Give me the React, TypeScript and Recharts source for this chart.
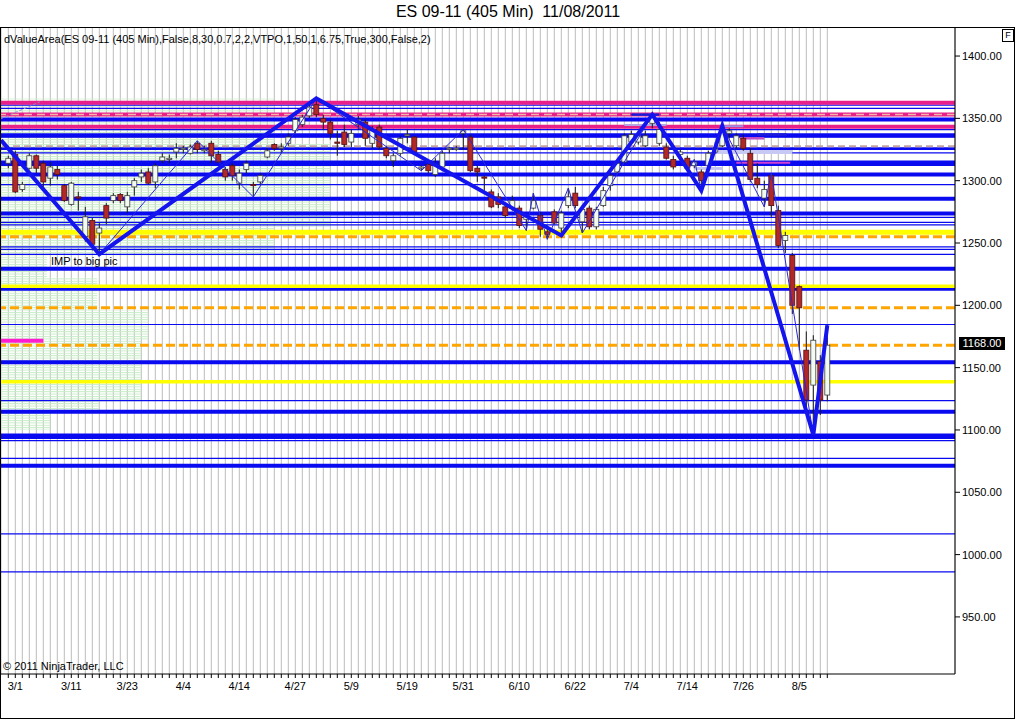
import React from 'react';
import {
  ComposedChart,
  Bar,
  Line,
  XAxis,
  YAxis,
  CartesianGrid,
  ReferenceLine,
  ReferenceArea,
} from 'recharts';

// one bar per session, 2/28 .. 8/11
const opens = [
  1314, 1321, 1293, 1310, 1320, 1314, 1302, 1309, 1296, 1281,
  1287, 1255, 1268, 1258, 1280, 1284, 1289, 1279, 1295, 1303,
  1307, 1299, 1316, 1317, 1323, 1325, 1322, 1330, 1324, 1330,
  1321, 1309, 1312, 1298, 1309, 1297, 1299, 1319, 1329, 1326,
  1330, 1340, 1345, 1352, 1361, 1350, 1347, 1331, 1339, 1331,
  1345, 1347, 1330, 1343, 1326, 1316, 1322, 1336, 1335, 1310,
  1313, 1305, 1311, 1325, 1325, 1338, 1335, 1310, 1303, 1291,
  1287, 1279, 1278, 1278, 1269, 1278, 1272, 1259, 1275, 1262,
  1280, 1290, 1267, 1278, 1263, 1280, 1296, 1307, 1315, 1331,
  1331, 1328, 1346, 1330, 1327, 1317, 1321, 1318, 1312, 1307,
  1312, 1323, 1328, 1338, 1328, 1334, 1322, 1302, 1286, 1304,
  1276, 1252, 1240, 1215, 1164, 1136, 1155, 1128,
];
const highs = [
  1320, 1324, 1299, 1322, 1321, 1316, 1315, 1312, 1297, 1299,
  1291, 1279, 1270, 1266, 1282, 1290, 1290, 1291, 1302, 1309,
  1310, 1314, 1322, 1321, 1330, 1328, 1329, 1332, 1328, 1332,
  1324, 1311, 1314, 1309, 1316, 1299, 1306, 1326, 1330, 1330,
  1338, 1351, 1353, 1361, 1366, 1353, 1349, 1340, 1345, 1341,
  1352, 1349, 1344, 1345, 1328, 1322, 1336, 1341, 1336, 1312,
  1315, 1318, 1324, 1327, 1328, 1341, 1337, 1312, 1304, 1293,
  1290, 1281, 1288, 1280, 1273, 1290, 1275, 1264, 1277, 1276,
  1294, 1295, 1280, 1280, 1279, 1295, 1306, 1316, 1338, 1340,
  1339, 1340, 1353, 1347, 1330, 1320, 1325, 1320, 1317, 1309,
  1324, 1331, 1344, 1342, 1338, 1337, 1326, 1314, 1300, 1306,
  1280, 1259, 1242, 1216, 1179, 1176, 1160, 1184,
];
const lows = [
  1310, 1290, 1291, 1309, 1306, 1295, 1296, 1301, 1283, 1280,
  1276, 1251, 1244, 1241, 1265, 1282, 1282, 1274, 1288, 1299,
  1297, 1294, 1314, 1314, 1318, 1322, 1321, 1322, 1322, 1314,
  1314, 1300, 1300, 1293, 1306, 1287, 1297, 1318, 1324, 1322,
  1328, 1338, 1343, 1350, 1351, 1341, 1333, 1320, 1327, 1327,
  1341, 1328, 1326, 1325, 1318, 1311, 1320, 1330, 1322, 1308,
  1306, 1303, 1310, 1322, 1324, 1325, 1307, 1299, 1292, 1278,
  1278, 1270, 1276, 1262, 1260, 1277, 1255, 1253, 1265, 1256,
  1278, 1278, 1258, 1261, 1261, 1279, 1292, 1306, 1314, 1329,
  1329, 1327, 1342, 1328, 1317, 1309, 1318, 1308, 1310, 1292,
  1310, 1322, 1327, 1334, 1326, 1324, 1299, 1294, 1279, 1271,
  1246, 1242, 1193, 1164, 1113, 1096, 1112, 1123,
];
const closes = [
  1318, 1291, 1297, 1320, 1310, 1299, 1311, 1305, 1284, 1298,
  1286, 1271, 1249, 1262, 1270, 1288, 1284, 1288, 1300, 1306,
  1298, 1312, 1319, 1318, 1326, 1326, 1327, 1325, 1325, 1320,
  1315, 1303, 1304, 1306, 1314, 1296, 1304, 1324, 1326, 1327,
  1335, 1349, 1351, 1359, 1353, 1347, 1338, 1330, 1329, 1338,
  1349, 1334, 1341, 1327, 1320, 1320, 1334, 1337, 1323, 1311,
  1308, 1312, 1322, 1326, 1326, 1340, 1308, 1307, 1302, 1279,
  1281, 1272, 1284, 1264, 1271, 1284, 1261, 1257, 1266, 1274,
  1287, 1280, 1277, 1263, 1277, 1292, 1304, 1314, 1336, 1337,
  1336, 1336, 1352, 1341, 1318, 1311, 1323, 1310, 1315, 1300,
  1322, 1326, 1340, 1340, 1336, 1326, 1301, 1297, 1293, 1280,
  1248, 1256, 1200, 1198, 1124, 1172, 1124, 1168,
];

// a label every 8 sessions, starting at bar 1 (3/1)
const dateLabels = ['3/1', '3/11', '3/23', '4/4', '4/14', '4/27', '5/9', '5/19', '5/31', '6/10', '6/22', '7/4', '7/14', '7/26', '8/5'];
const priceTicks = [950, 1000, 1050, 1100, 1150, 1200, 1250, 1300, 1350, 1400];
const lastPrice = 1168;

// zigzag pivots [bar, price]
const zigzagMajor = [
  [-1.04, 1332.5], [13, 1241], [44, 1366], [79, 1256], [92, 1353],
  [99, 1292], [102, 1344], [115, 1096], [117, 1184],
];
const zigzagMinor = [
  [13, 1241], [27, 1332], [35, 1287], [44, 1366], [59, 1308], [65, 1341],
  [74, 1260], [75, 1290], [77, 1253], [80, 1294], [82, 1258], [92, 1353],
  [97, 1308], [98, 1317], [99, 1292], [102, 1344], [108, 1279], [109, 1306],
  [115, 1096], [117, 1184],
];

// value-area levels
const pinkLevels = [1362.6, 1353.0, 1343.2];
const blueThickLevels = [1349.1, 1336.5, 1304.9, 1285.6, 1273.6, 1229.4, 1213.3, 1154.3, 1114.7, 1071.3];
const blueMidLevels = [1325.8];
const blueHeavyLevels = [1314.0, 1094.9];
const blueThinLevels = [
  1360.6, 1358.0, 1340.9, 1334.9, 1322.3, 1296.9, 1270.6, 1266.6, 1264.6,
  1246.9, 1244.9, 1240.9, 1184.6, 1123.6, 1091.4, 1077.2, 1016.7, 986.2,
];
const yellowLevels = [1258.6, 1215.4, 1138.6];
const orangeLevels = [1255.0, 1198.1, 1168.0];
const pinkDashLevels = [1353.0];
const grayDashLevels = [1327.6];

// short levels [price, fromBar, toBar]
const shortLevels = [
  [1353.0, 89, 93],
  [1344.6, 88, 94],
  [1343.7, 102, 105],
  [1337.0, 107, 111.2],
  [1334.0, 104.5, 108],
  [1323.0, 101.2, 112],
  [1314.3, 104, 111.7],
  [1309.8, 98, 102],
  [1171.5, -1.04, 5],
];
const shortStyles = [
  { stroke: '#1c1cd8', w: 2.5 },
  { stroke: '#b4a4e4', w: 2 },
  { stroke: '#9a90e6', w: 2 },
  { stroke: '#1c1cd8', w: 2.5 },
  { stroke: '#c24ec8', w: 2.5 },
  { stroke: '#c8c8f4', w: 4 },
  { stroke: '#d040d0', w: 2 },
  { stroke: '#c4c4f2', w: 3 },
  { stroke: '#ff1cd0', w: 4 },
];

// TPO profile [lowPrice, highPrice, lengthInBars]
const tpoBands = [
  [1330, 1366, 38], [1262, 1330, 46], [1240, 1262, 38], [1222, 1240, 5.5],
  [1196, 1222, 12.7], [1172, 1196, 20], [1123, 1172, 19], [1115, 1123, 13],
  [1100, 1115, 6],
];

const X_DOMAIN = [-1.043, 135.243];
const Y_DOMAIN = [904.2, 1422.5];
const FONT = 'Arial, "Liberation Sans", sans-serif';
const BLUE = '#0a0af0';

const candles = opens.map((o, i) => ({
  i,
  o,
  h: highs[i],
  l: lows[i],
  c: closes[i],
  range: [lows[i], highs[i]],
}));
const barTicks = candles.map((d) => d.i);
const majorData = zigzagMajor.map(([i, v]) => ({ i, v }));
const minorData = zigzagMinor.map(([i, v]) => ({ i, v }));

const dateFor = (i: number) => ((i - 1) % 8 === 0 && i >= 1 ? dateLabels[(i - 1) / 8] ?? '' : '');

const Candle = (props: any) => {
  const { x, y, width, height, payload } = props;
  if (x == null || !payload) return null;
  const top = Math.min(y, y + height);
  const h = Math.abs(height);
  const span = payload.h - payload.l;
  const k = span > 0 ? h / span : 0;
  const cx = x + width / 2;
  const bTop = top + (payload.h - Math.max(payload.o, payload.c)) * k;
  const bBot = top + (payload.h - Math.min(payload.o, payload.c)) * k;
  const up = payload.c >= payload.o;
  return (
    <g>
      <line x1={cx} x2={cx} y1={top} y2={top + h} stroke="#1a1a1a" strokeWidth={1} />
      <rect
        x={cx - 2.5}
        y={bTop}
        width={5}
        height={Math.max(1, bBot - bTop)}
        fill={up ? '#f2fbf2' : '#b02828'}
        stroke={up ? '#3c3c3c' : '#581010'}
        strokeWidth={0.8}
      />
    </g>
  );
};

export default function App() {
  return (
    <div style={{ position: 'absolute', left: 0, top: 0, width: 1016, height: 720, background: '#fff', fontFamily: FONT }}>
      <svg width={0} height={0} style={{ position: 'absolute' }}>
        <defs>
          <pattern id="tpoLines" patternUnits="userSpaceOnUse" width={10} height={2.4}>
            <rect x={0} y={0} width={10} height={1} fill="#c8edc8" />
          </pattern>
        </defs>
      </svg>

      <div style={{ position: 'absolute', top: 3, left: 0, width: 1016, textAlign: 'center', fontSize: 16, whiteSpace: 'pre', color: '#000' }}>
        {'ES 09-11 (405 Min)  11/08/2011'}
      </div>

      <ComposedChart
        width={1016}
        height={720}
        data={candles}
        margin={{ top: 28, right: 1, bottom: 16, left: 1 }}
        style={{ position: 'absolute', left: 0, top: 0 }}
      >
        <CartesianGrid horizontal={false} vertical stroke="#bcbcbc" strokeWidth={1} />
        <XAxis
          type="number"
          dataKey="i"
          domain={X_DOMAIN}
          allowDataOverflow
          ticks={barTicks}
          interval={0}
          tickFormatter={dateFor}
          tick={{ fontSize: 11, fill: '#000', fontFamily: FONT }}
          tickSize={4}
          tickMargin={4}
          tickLine={{ stroke: '#000' }}
          axisLine={{ stroke: '#000' }}
          height={30}
        />
        <YAxis
          orientation="right"
          type="number"
          domain={Y_DOMAIN}
          allowDataOverflow
          ticks={priceTicks}
          tickFormatter={(v: number) => v.toFixed(2)}
          tick={{ fontSize: 11, fill: '#000', fontFamily: FONT }}
          tickSize={5}
          tickLine={{ stroke: '#000' }}
          axisLine={{ stroke: '#000' }}
          width={60}
        />

        {tpoBands.map(([lo, hi, len], k) => (
          <ReferenceArea key={'tpo' + k} zIndex={5} x1={X_DOMAIN[0]} x2={len} y1={lo} y2={hi} fill="url(#tpoLines)" fillOpacity={1} stroke="none" />
        ))}

        {blueThinLevels.map((p) => (
          <ReferenceLine key={'bt' + p} zIndex={20} y={p} stroke={BLUE} strokeWidth={1.2} />
        ))}
        {blueMidLevels.map((p) => (
          <ReferenceLine key={'bm' + p} zIndex={20} y={p} stroke={BLUE} strokeWidth={2.8} />
        ))}
        {blueThickLevels.map((p) => (
          <ReferenceLine key={'bk' + p} zIndex={20} y={p} stroke={BLUE} strokeWidth={4} />
        ))}
        {blueHeavyLevels.map((p) => (
          <ReferenceLine key={'bh' + p} zIndex={20} y={p} stroke={BLUE} strokeWidth={5.5} />
        ))}
        {pinkLevels.map((p) => (
          <ReferenceLine key={'pk' + p} zIndex={21} y={p} stroke="#e8208a" strokeWidth={4} />
        ))}
        {pinkDashLevels.map((p) => (
          <ReferenceLine key={'pd' + p} zIndex={22} y={p} stroke="#f4b8a8" strokeWidth={1.5} strokeDasharray="8 5" />
        ))}
        {grayDashLevels.map((p) => (
          <ReferenceLine key={'gd' + p} zIndex={22} y={p} stroke="#c4a4a4" strokeWidth={2} strokeDasharray="7 4" />
        ))}
        {yellowLevels.map((p, k) => (
          <ReferenceLine key={'ye' + p} zIndex={21} y={p} stroke="#ffff00" strokeWidth={k === 0 ? 5 : 3.5} />
        ))}
        {orangeLevels.map((p) => (
          <ReferenceLine key={'or' + p} zIndex={22} y={p} stroke="#ffa500" strokeWidth={3} strokeDasharray="9 4" />
        ))}
        {shortLevels.map(([p, a, b], k) => (
          <ReferenceLine
            key={'sl' + k}
            zIndex={23}
            segment={[{ x: a, y: p }, { x: b, y: p }]}
            stroke={shortStyles[k].stroke}
            strokeWidth={shortStyles[k].w}
          />
        ))}
        <ReferenceLine
          zIndex={23}
          segment={[{ x: X_DOMAIN[0], y: 1349.8 }, { x: 4.5, y: 1363.2 }]}
          stroke="#8c8ccc"
          strokeWidth={1}
          strokeDasharray="3 2"
        />

        <Bar dataKey="range" zIndex={300} barSize={5} shape={<Candle />} isAnimationActive={false} />

        <Line data={minorData} zIndex={400} dataKey="v" type="linear" stroke="#2828d8" strokeWidth={1} dot={false} isAnimationActive={false} />
        <Line data={majorData} zIndex={410} dataKey="v" type="linear" stroke="#1414ee" strokeWidth={4} dot={false} isAnimationActive={false} />
      </ComposedChart>

      <div style={{ position: 'absolute', left: 0, top: 27, width: 1013, height: 690, border: '1px solid #000', pointerEvents: 'none' }} />

      <div style={{ position: 'absolute', left: 4, top: 33, fontSize: 11, color: '#000', whiteSpace: 'pre' }}>
        dValueArea(ES 09-11 (405 Min),False,8,30,0.7,2,2,VTPO,1,50,1,6.75,True,300,False,2)
      </div>
      <div style={{ position: 'absolute', left: 51, top: 255, fontSize: 11, color: '#000' }}>IMP to big pic</div>
      <div style={{ position: 'absolute', left: 3, top: 660, fontSize: 11, color: '#000' }}>© 2011 NinjaTrader, LLC</div>
      <div
        style={{
          position: 'absolute',
          left: 959,
          top: 337,
          width: 46,
          height: 13,
          background: '#000',
          color: '#fff',
          fontSize: 11,
          lineHeight: '13px',
          textAlign: 'center',
        }}
      >
        {lastPrice.toFixed(2)}
      </div>
      <div
        style={{
          position: 'absolute',
          left: 1002,
          top: 29,
          width: 10,
          height: 11,
          border: '1px solid #000',
          fontSize: 9,
          lineHeight: '11px',
          textAlign: 'center',
        }}
      >
        F
      </div>
    </div>
  );
}
